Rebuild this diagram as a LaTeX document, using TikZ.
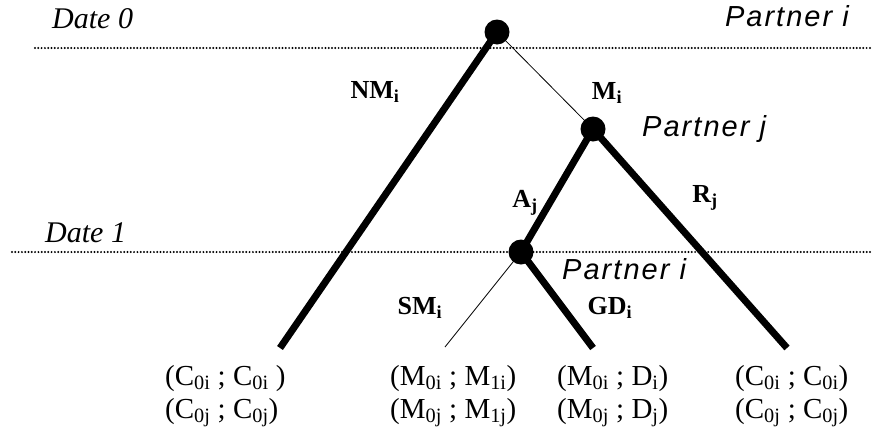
\documentclass[tikz,border=0pt]{standalone}
\usepackage{fontspec}
\setmainfont{Liberation Serif}
\newfontfamily\partnerfont[LetterSpace=7]{Liberation Sans}
\usetikzlibrary{positioning}
\newcommand{\lo}[1]{\textsubscript{#1}}

\begin{document}
\begin{tikzpicture}[x=1pt,y=-1pt,
  dot/.style={circle,fill,inner sep=0pt,minimum size=25pt},
  thickbr/.style={line width=7pt},
  thinbr/.style={line width=0.8pt},
  dateline/.style={line width=2.2pt,line cap=round,dash pattern=on 0pt off 3.3pt},
  datelbl/.style={inner sep=0pt,anchor=base west,font=\fontsize{30}{36}\selectfont\itshape},
  partner/.style={inner sep=0pt,font=\partnerfont\itshape\fontsize{29}{34}\selectfont},
  brlbl/.style={inner sep=0pt,font=\fontsize{26}{30}\selectfont\bfseries},
  payoff/.style={inner sep=0pt,anchor=base west,font=\fontsize{29}{33}\selectfont}]
\useasboundingbox (0,0) rectangle (872,442);
% dates
\draw[dateline] (35,48) -- (872,48);
\draw[dateline] (12,252) -- (872,252);
\node[datelbl] (date0) at (52,28) {Date 0};
\node[datelbl] (date1) at (45,242) {Date 1};
% decision points
\node[dot] (root) at (497,32) {};
\node[dot] (pj) at (593,129) {};
\node[dot] (pi) at (521,252) {};
\node[partner,anchor=base east] (who0) at (849,26) {Partner i};
\node[partner,anchor=base west] (whoj) at (642,136) {Partner j};
\node[partner,anchor=base west] (whoi) at (562,279) {Partner i};
% branch ends
\coordinate (nmEnd) at (280,348);
\coordinate (smEnd) at (445,347);
\coordinate (gdEnd) at (593,348);
\coordinate (rEnd) at (787,348);
% branches
\draw[thickbr] (root.center) -- (nmEnd);
\draw[thinbr] (root.center) -- (pj.center);
\draw[thickbr] (pj.center) -- (pi.center);
\draw[thickbr] (pj.center) -- (rEnd);
\draw[thinbr] (pi.center) -- (smEnd);
\draw[thickbr] (pi.center) -- (gdEnd);
% branch labels
\node[brlbl] (nm) at (375,92) {NM\lo{i}};
\node[brlbl] (m) at (607,93) {M\lo{i}};
\node[brlbl] (a) at (525,203) {A\lo{j}};
\node[brlbl] (r) at (705,198) {R\lo{j}};
\node[brlbl] (sm) at (420,308) {SM\lo{i}};
\node[brlbl] (gd) at (610,308) {GD\lo{i}};
% payoffs
\node[payoff] (nmi) at (165,385) {(C\lo{0i} ; C\lo{0i} )};
\node[payoff] (nmj) at (165,418) {(C\lo{0j} ; C\lo{0j})};
\node[payoff] (smi) at (390,385) {(M\lo{0i} ; M\lo{1i})};
\node[payoff] (smj) at (390,418) {(M\lo{0j} ; M\lo{1j})};
\node[payoff] (gdi) at (557,385) {(M\lo{0i} ; D\lo{i})};
\node[payoff] (gdj) at (557,418) {(M\lo{0j} ; D\lo{j})};
\node[payoff] (ri) at (735,385) {(C\lo{0i} ; C\lo{0i})};
\node[payoff] (rj) at (735,418) {(C\lo{0j} ; C\lo{0j})};
\end{tikzpicture}
\end{document}
